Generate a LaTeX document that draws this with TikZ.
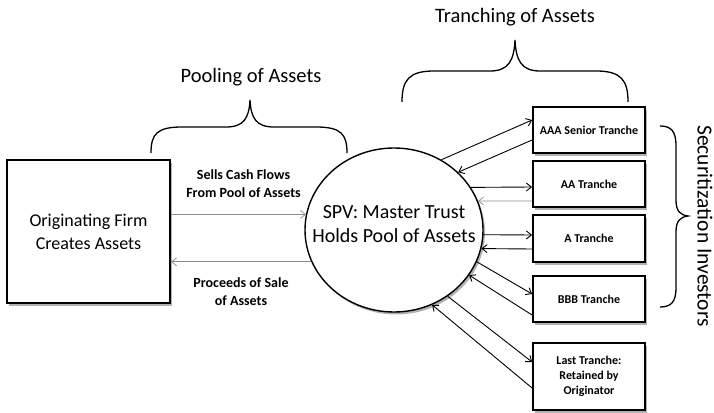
\documentclass[tikz,border=0pt]{standalone}
\usepackage{fontspec}
\setmainfont{Carlito}
\usetikzlibrary{arrows.meta,shapes.geometric,shadows}
\begin{document}
\begin{tikzpicture}[x=1pt,y=-1pt,
  >={Straight Barb[length=5pt,width=8pt]},
  shadowed/.style={drop shadow={shadow xshift=2pt,shadow yshift=-2.5pt,fill=black,opacity=.3}},
  bigbox/.style={draw,line width=2.2pt,fill=white,shadowed,minimum width=163pt,minimum height=143pt,align=center,font=\fontsize{18}{23}\selectfont},
  trbox/.style={draw,line width=1.8pt,fill=white,shadowed,minimum width=112pt,align=center,inner sep=0pt,font=\bfseries\fontsize{12}{15}\selectfont},
  pool/.style={draw,ellipse,line width=1.4pt,fill=white,shadowed,minimum width=178pt,minimum height=164pt,inner sep=0pt},
  pooltext/.style={align=center,font=\fontsize{20}{24}\selectfont},
  lbl/.style={align=center,font=\bfseries\fontsize{14}{18}\selectfont},
  head/.style={font=\fontsize{20.5}{24}\selectfont},
  brace/.style={line width=1.3pt},
  fwd/.style={->,line width=0.9pt},
  ghost/.style={->,line width=0.7pt,draw=black!45}]
\useasboundingbox (0,0) rectangle (714,412);

\node[bigbox] (firm) at (88.5,231.5) {Originating Firm\\Creates Assets};
\node[pool] (spv) at (394,230) {};
\node[pooltext] (spvtext) at (394,224) {SPV: Master Trust\\Holds Pool of Assets};

\node[trbox,minimum height=46pt] (aaa) at (589,130) {AAA Senior Tranche};
\node[trbox,minimum height=46pt] (aa) at (589,184) {AA Tranche};
\node[trbox,minimum height=47pt] (a) at (589,238.5) {A Tranche};
\node[trbox,minimum height=46pt] (bbb) at (589,299) {BBB Tranche};
\node[trbox,minimum height=67pt] (last) at (589,376.5) {Last Tranche:\\Retained by\\Originator};

% main flows
\draw[ghost] (spv.170.3 -| firm.east) -- (spv.170.3);
\draw[ghost] (spv.201.3) -- (spv.201.3 -| firm.east);
\node[lbl] (sells) at (243.5,184) {Sells Cash Flows\\From Pool of Assets};
\node[lbl] (proc) at (241,292) {Proceeds of Sale\\of Assets};

% tranche flows
\draw[fwd] (spv.56) -- ([yshift=10pt]aaa.west);
\draw[fwd] ([yshift=-10pt]aaa.west) -- (spv.42.6);
\draw[fwd] (spv.29.5) -- ([yshift=-3pt]aa.west);
\draw[ghost] ([yshift=-17pt]aa.west) -- (spv.19);
\draw[fwd] (spv.-3) -- ([yshift=3.5pt]a.west);
\draw[fwd] ([yshift=-10.5pt]a.west) -- (spv.-12);
\draw[fwd] (spv.-21.4) -- ([yshift=5pt]bbb.west);
\draw[fwd] ([yshift=-16pt]bbb.west) -- (spv.-31);
\draw[fwd] (spv.-51) -- ([yshift=14.5pt]last.west);
\draw[fwd] ([yshift=-11.5pt]last.west) -- (spv.-63);

% braces
\draw[brace] (151,153) .. controls (151,134) and (157,127) .. (182,127) -- (226,127)
  .. controls (244,127) and (249,118) .. (250,100)
  .. controls (251,118) and (256,127) .. (274,127) -- (316,127)
  .. controls (341,127) and (347,134) .. (347,153);
\node[head] (pooling) at (251,77) {Pooling of Assets};

\draw[brace] (402,102) .. controls (402,80) and (409,71) .. (434,71) -- (490,71)
  .. controls (509,71) and (514,60) .. (515,40)
  .. controls (516,60) and (521,71) .. (540,71) -- (596,71)
  .. controls (621,71) and (628,80) .. (628,102);
\node[head] (tranching) at (515,17) {Tranching of Assets};

\draw[brace] (660,126) .. controls (671,126) and (676,131) .. (676,146) -- (676,200)
  .. controls (676,211) and (680,215) .. (688,216)
  .. controls (680,217) and (676,221) .. (676,232) -- (676,288)
  .. controls (676,302) and (671,307) .. (660,307);
\node[font=\fontsize{21.5}{24}\selectfont,rotate=-90] (inv) at (705,226) {Securitization Investors};
\end{tikzpicture}
\end{document}
